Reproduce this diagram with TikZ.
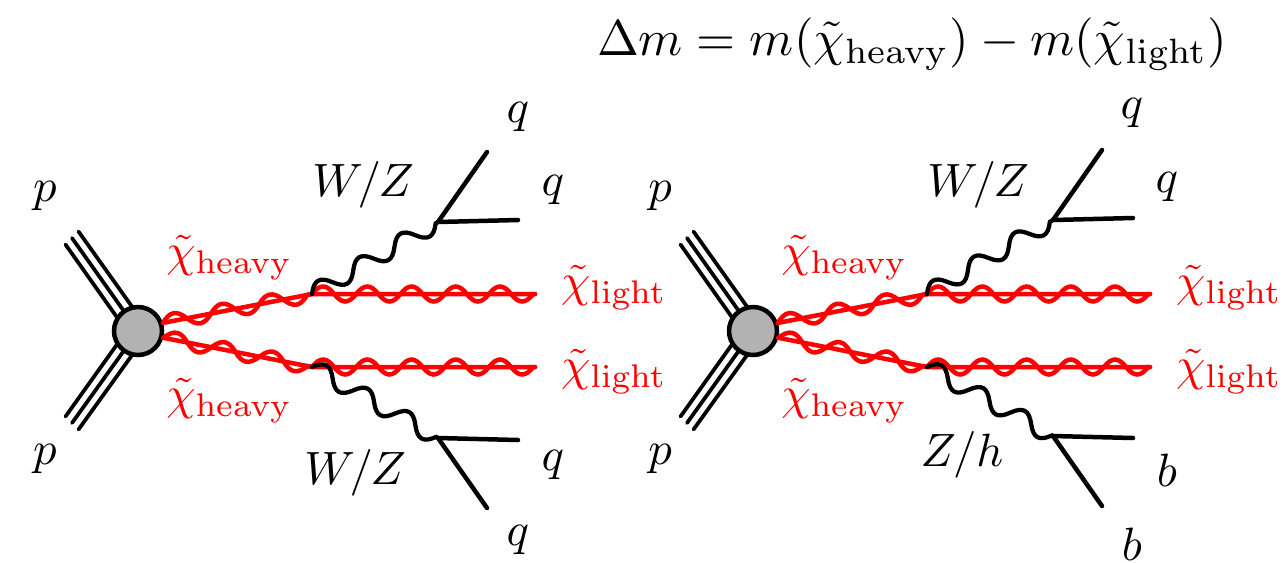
\documentclass[tikz,border=0pt]{standalone}
\usetikzlibrary{decorations}
\pgfdeclaredecoration{boson}{up}{
  \state{up}[width=0.5\pgfdecorationsegmentlength, next state=down,
    switch if less than=0.2\pgfdecorationsegmentlength to last]{
    \pgfpathcurveto{\pgfqpoint{0.18\pgfdecorationsegmentlength}{1.333\pgfdecorationsegmentamplitude}}
      {\pgfqpoint{0.32\pgfdecorationsegmentlength}{1.333\pgfdecorationsegmentamplitude}}
      {\pgfqpoint{0.5\pgfdecorationsegmentlength}{0pt}}
  }
  \state{down}[width=0.5\pgfdecorationsegmentlength, next state=up,
    switch if less than=0.2\pgfdecorationsegmentlength to last]{
    \pgfpathcurveto{\pgfqpoint{0.18\pgfdecorationsegmentlength}{-1.333\pgfdecorationsegmentamplitude}}
      {\pgfqpoint{0.32\pgfdecorationsegmentlength}{-1.333\pgfdecorationsegmentamplitude}}
      {\pgfqpoint{0.5\pgfdecorationsegmentlength}{0pt}}
  }
  \state{last}[width=\pgfdecorationsegmentlength, next state=final]{}
  \state{final}{\pgfpathlineto{\pgfpointdecoratedpathlast}}
}
\begin{document}
\begin{tikzpicture}[
  x=0.02cm, y=-0.02cm,
  lbl/.style={scale=2.66, inner sep=0pt},
  slbl/.style={scale=2.66, inner sep=0pt, text=red},
  beam/.style={line width=0.075cm, line cap=round},
  quark/.style={line width=0.09cm, line cap=round},
  blob/.style={circle, draw, line width=0.09cm, fill=black!30, minimum size=0.96cm, inner sep=0pt},
  sline/.style={red, line width=0.09cm, line cap=round, line join=round},
  swave/.style={red, line width=0.09cm, line cap=round, decorate,
    decoration={boson, segment length=0.98cm, amplitude=0.15cm}},
  rwave/.style={swave, decoration={boson, segment length=0.885cm, amplitude=0.15cm}},
  bwave/.style={black, line width=0.085cm, line cap=round, decorate,
    decoration={boson, segment length=0.95cm, amplitude=0.17cm}}
]
\useasboundingbox (0,0) rectangle (1284,562);
\node[lbl, scale=1.075] (title) at (912,44) {$\Delta m = m(\tilde{\chi}_{\rm heavy}) - m(\tilde{\chi}_{\rm light})$};
% the two diagrams only differ in the lower boson and a small shift of the upper jets
\foreach \n/\dx/\up/\lo in {L/0/0/0,R/615/-2/-2} {
  \begin{scope}[shift={(\dx,0)}]
    \foreach \o in {-1,0,1} {
      \coordinate (ca\o\n) at (138+\o*7.6,331-\o*5.3);
      \coordinate (pa\o\n) at (72+\o*6.5,238-\o*6.5);
      \coordinate (cb\o\n) at (138+\o*7.6,331+\o*5.3);
      \coordinate (pb\o\n) at (72+\o*6.5,423+\o*6.5);
      \draw[beam] (ca\o\n) -- (pa\o\n);
      \draw[beam] (cb\o\n) -- (pb\o\n);
    }
    \node[blob] (blob\n) at (138,331) {};
    \node[lbl] (pu\n) at (45,196) {$p$};
    \node[lbl] (pd\n) at (45,459) {$p$};
    % sparticles
    \coordinate (vu\n) at (312,294);
    \coordinate (vd\n) at (312,367);
    \coordinate (eu\n) at (535,294);
    \coordinate (ed\n) at (535,367);
    \draw[sline] (blob\n.18) -- (vu\n) -- (eu\n);
    \draw[sline] (blob\n.-15) -- (vd\n) -- (ed\n);
    \draw[swave] (blob\n.18) -- (vu\n);
    \draw[swave] (blob\n.-15) -- (vd\n);
    \draw[rwave] (vu\n) -- (eu\n);
    \draw[rwave] (vd\n) -- (ed\n);
    \node[slbl] (hu\n) at (229.5,258) {$\tilde{\chi}_{\rm heavy}$};
    \node[slbl] (hd\n) at (229.5,401) {$\tilde{\chi}_{\rm heavy}$};
    \node[slbl] (lu\n) at (614,288) {$\tilde{\chi}_{\rm light}$};
    \node[slbl] (ld\n) at (614,372) {$\tilde{\chi}_{\rm light}$};
    % bosons and jets
    \coordinate (ju\n) at (438,222+\up);
    \coordinate (jd\n) at (438,438+\lo);
    \draw[bwave] (vu\n) -- (ju\n);
    \draw[bwave] (vd\n) -- (jd\n);
    \coordinate (qa\n) at (487,152+\up);
    \coordinate (qb\n) at (518,220+\up);
    \coordinate (qc\n) at (518,440+\lo);
    \coordinate (qd\n) at (487,508+\lo);
    \draw[quark] (ju\n) -- (qa\n);
    \draw[quark] (ju\n) -- (qb\n);
    \draw[quark] (jd\n) -- (qc\n);
    \draw[quark] (jd\n) -- (qd\n);
    \node[lbl] (vl\n) at (363,185) {$W/Z$};
  \end{scope}
}
\node[lbl] (qa) at (518,117) {$q$};
\node[lbl] (qb) at (553,190) {$q$};
\node[lbl] (qc) at (553,465) {$q$};
\node[lbl] (qd) at (518,540) {$q$};
\node[lbl] (wz) at (355,473) {$W/Z$};
\node[lbl] (qe) at (1132,113) {$q$};
\node[lbl] (qf) at (1167,187) {$q$};
\node[lbl] (ba) at (1167,470) {$b$};
\node[lbl] (bb) at (1132,544) {$b$};
\node[lbl] (zh) at (962,455) {$Z/h$};
\end{tikzpicture}
\end{document}
